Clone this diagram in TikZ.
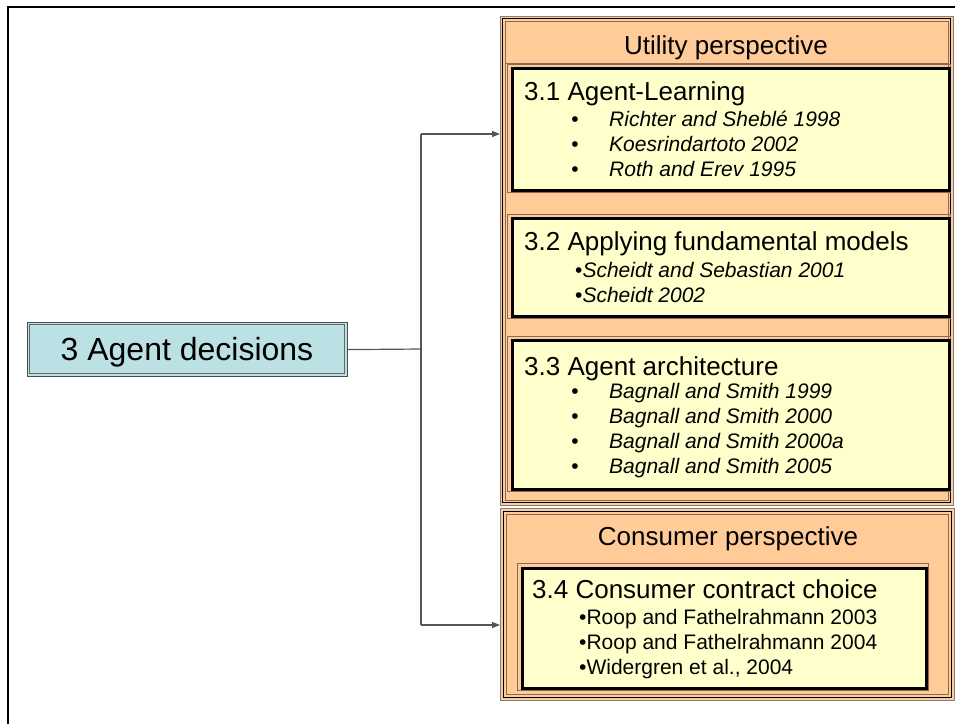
\documentclass[tikz,border=0pt]{standalone}
\usepackage{fontspec}
\setmainfont{Liberation Sans}
\usetikzlibrary{arrows.meta}
\definecolor{peach}{HTML}{FFCC99}
\definecolor{paleyellow}{HTML}{FFFFCC}
\definecolor{paleblue}{HTML}{BCE1E5}
\definecolor{brownline}{HTML}{8A6A50}
\definecolor{connector}{HTML}{555555}
\tikzset{
  frameouter/.style={draw=gray, line width=1.2pt, fill=peach},
  frameinner/.style={draw=black, line width=1pt},
  framebrown/.style={draw=brownline, line width=0.9pt},
  yellowbox/.style={draw=black, line width=3pt, fill=paleyellow},
  browntrim/.style={draw=brownline, line width=0.9pt},
  headtext/.style={anchor=base, inner sep=0pt, font=\fontsize{26}{30}\selectfont},
  titletext/.style={anchor=base west, inner sep=0pt, font=\fontsize{26}{30}\selectfont},
  itemtext/.style={anchor=base west, inner sep=0pt, font=\fontsize{21}{25}\selectfont\itshape},
  plaintext/.style={anchor=base west, inner sep=0pt, font=\fontsize{21}{25}\selectfont},
  bullettext/.style={anchor=base, inner sep=0pt, font=\fontsize{21}{25}\selectfont},
  conn/.style={draw=connector, line width=1.2pt},
  arr/.style={conn, -{Triangle[length=8pt,width=6pt]}}
}
\begin{document}
\begin{tikzpicture}[x=1pt,y=-1pt]
\useasboundingbox (0,0) rectangle (955,724);
% outer frame
\draw[line width=2.5pt] (8,724) -- (8,7) -- (955,7);

% Utility frame
\node[frameouter, anchor=north west, minimum width=453pt, minimum height=489pt, inner sep=0pt] (util) at (500,16) {};
\draw[frameinner] (502.5,18.5) rectangle (950.5,502.5);
\draw[framebrown] (505,21) rectangle (948,500);
\draw[framebrown] (505,63) -- (948,63);

% sub boxes
\draw[browntrim] (507,64) rectangle (950,192);
\node[yellowbox, anchor=north west, minimum width=437pt, minimum height=122pt, inner sep=0pt] (b31) at (511,67) {};
\draw[browntrim] (507,214) rectangle (950,318);
\node[yellowbox, anchor=north west, minimum width=437pt, minimum height=98pt, inner sep=0pt] (b32) at (511,217) {};
\draw[browntrim] (507,336) rectangle (950,491);
\node[yellowbox, anchor=north west, minimum width=437pt, minimum height=149pt, inner sep=0pt] (b33) at (511,339) {};

% Consumer frame
\node[frameouter, anchor=north west, minimum width=454pt, minimum height=192pt, inner sep=0pt] (cons) at (500,508) {};
\draw[frameinner] (503,511) rectangle (951,697);
\draw[framebrown] (506,514) rectangle (948,694);
\draw[browntrim] (517,563) rectangle (928,690.5);
\node[yellowbox, anchor=north west, minimum width=404pt, minimum height=120pt, inner sep=0pt] (b34) at (521,567) {};

% Agent decisions
\node[draw=black!70, line width=1.2pt, fill=paleblue, anchor=north west, minimum width=320pt, minimum height=54pt, inner sep=0pt] (agent) at (27,322) {};
\draw[draw=black!60, line width=0.8pt] (29.5,324.5) rectangle (344.5,373.5);
\node[anchor=base, inner sep=0pt, font=\fontsize{32}{36}\selectfont] (agentlbl) at (187,360) {3 Agent decisions};

% texts
\node[headtext] (uhead) at (726,54) {Utility perspective};
\node[titletext] (t31) at (524,100) {3.1 Agent-Learning};
\node[bullettext] (p311) at (575,126) {•};
\node[itemtext] (i311) at (609,126) {Richter and Sheblé 1998};
\node[bullettext] (p312) at (575,151) {•};
\node[itemtext] (i312) at (609,151) {Koesrindartoto 2002};
\node[bullettext] (p313) at (575,176) {•};
\node[itemtext] (i313) at (609,176) {Roth and Erev 1995};

\node[titletext] (t32) at (524,250) {3.2 Applying fundamental models};
\node[itemtext] (i321) at (575,277) {\upshape•\itshape Scheidt and Sebastian 2001};
\node[itemtext] (i322) at (575,302) {\upshape•\itshape Scheidt 2002};

\node[titletext] (t33) at (524,375) {3.3 Agent architecture};
\node[bullettext] (p331) at (575,398) {•};
\node[itemtext] (i331) at (609,398) {Bagnall and Smith 1999};
\node[bullettext] (p332) at (575,423) {•};
\node[itemtext] (i332) at (609,423) {Bagnall and Smith 2000};
\node[bullettext] (p333) at (575,448) {•};
\node[itemtext] (i333) at (609,448) {Bagnall and Smith 2000a};
\node[bullettext] (p334) at (575,473) {•};
\node[itemtext] (i334) at (609,473) {Bagnall and Smith 2005};

\node[headtext] (chead) at (728,545) {Consumer perspective};
\node[titletext] (t34) at (532,598) {3.4 Consumer contract choice};
\node[plaintext] (i341) at (579,624) {•Roop and Fathelrahmann 2003};
\node[plaintext] (i342) at (579,649) {•Roop and Fathelrahmann 2004};
\node[plaintext] (i343) at (579,674) {•Widergren et al., 2004};

% connectors
\coordinate (jn) at (421,349);
\coordinate (jtop) at (421,134);
\coordinate (jbot) at (421,625);
\draw[conn] (agent.east) -- (jn);
\draw[conn] (jtop) -- (jbot);
\draw[arr] (jtop) -- (util.west |- jtop) ;
\draw[arr] (jbot) -- (cons.west |- jbot);
\end{tikzpicture}
\end{document}
